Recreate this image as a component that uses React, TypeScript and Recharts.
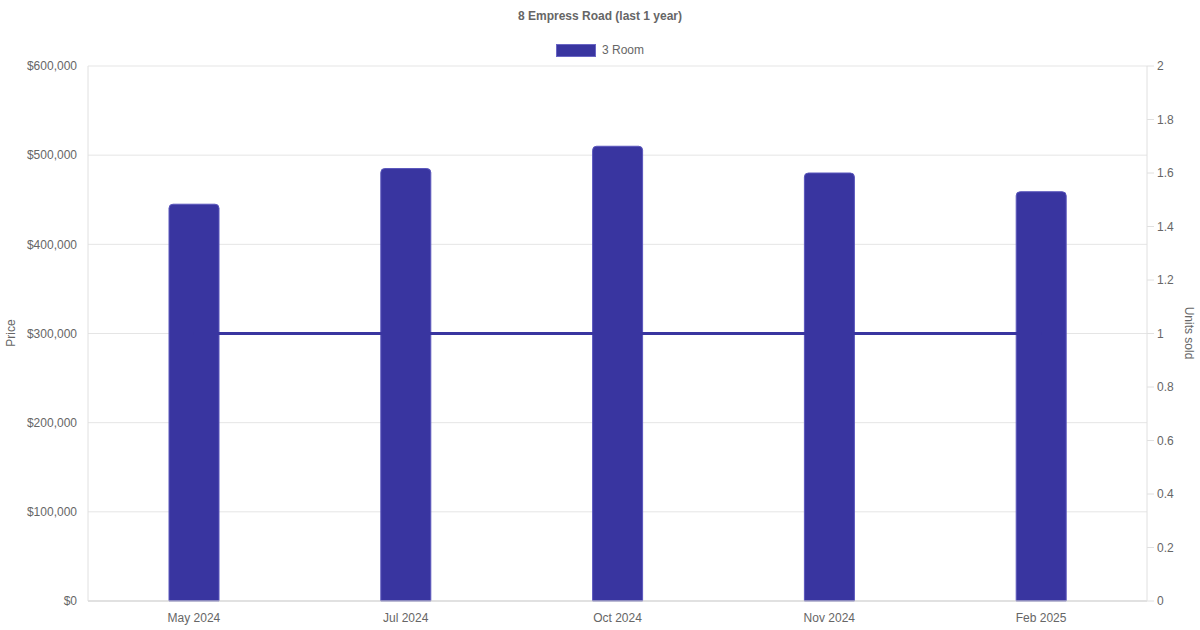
import React from 'react';
import {
  ComposedChart,
  Bar,
  Line,
  XAxis,
  YAxis,
  CartesianGrid,
} from 'recharts';

const months = ['May 2024', 'Jul 2024', 'Oct 2024', 'Nov 2024', 'Feb 2025'];
const prices = [445000, 485000, 510000, 480000, 459000];
const unitsSold = [1, 1, 1, 1, 1];
const priceTicks = [0, 100000, 200000, 300000, 400000, 500000, 600000];
const unitTicks = [0, 0.2, 0.4, 0.6, 0.8, 1, 1.2, 1.4, 1.6, 1.8, 2];

const BAR_COLOR = '#3935a0';
const TEXT = '#666';
const FONT = '"Liberation Sans", Arial, Helvetica, sans-serif';

const data = months.map((m, i) => ({ month: m, price: prices[i], units: unitsSold[i] }));

const tickStyle = { fill: TEXT, fontSize: 12, fontFamily: FONT };

export default function App() {
  return (
    <div style={{ position: 'absolute', left: 0, top: 0, width: 1200, height: 630, background: '#fff', fontFamily: FONT }}>
      {/* title */}
      <div style={{ position: 'absolute', top: 9, left: 0, width: 1200, textAlign: 'center', fontSize: 12, fontWeight: 'bold', color: TEXT }}>
        8 Empress Road (last 1 year)
      </div>
      {/* legend */}
      <div style={{ position: 'absolute', top: 43, left: 556, display: 'flex', alignItems: 'center', fontSize: 12, color: TEXT }}>
        <span style={{ display: 'inline-block', width: 38, height: 11, background: BAR_COLOR, border: '1px solid #6a66c4', marginRight: 6 }} />
        <span>3 Room</span>
      </div>
      {/* axis titles */}
      <div style={{ position: 'absolute', left: 11, top: 333, transform: 'translate(-50%, -50%) rotate(-90deg)', fontSize: 12, color: TEXT, whiteSpace: 'nowrap' }}>
        Price
      </div>
      <div style={{ position: 'absolute', left: 1189, top: 333, transform: 'translate(-50%, -50%) rotate(90deg)', fontSize: 12, color: TEXT, whiteSpace: 'nowrap' }}>
        Units sold
      </div>

      <ComposedChart
        width={1200}
        height={630}
        data={data}
        margin={{ top: 66, right: 0, bottom: 0, left: 0 }}
      >
        <CartesianGrid yAxisId="left" vertical={false} stroke="#e5e5e5" />
        <XAxis
          dataKey="month"
          height={29}
          tick={tickStyle}
          tickLine={false}
          tickSize={0}
          tickMargin={12}
          axisLine={{ stroke: '#d0d0d0' }}
        />
        <YAxis
          yAxisId="left"
          orientation="left"
          width={88}
          domain={[0, 600000]}
          ticks={priceTicks}
          tickFormatter={(v: number) => `$${v.toLocaleString('en-US')}`}
          tick={tickStyle}
          tickLine={false}
          tickSize={0}
          tickMargin={11}
          axisLine={{ stroke: '#e0e0e0' }}
        />
        <YAxis
          yAxisId="right"
          orientation="right"
          width={53}
          domain={[0, 2]}
          ticks={unitTicks}
          tickFormatter={(v: number) => String(v)}
          tick={{ ...tickStyle, textAnchor: 'start' }}
          tickLine={{ stroke: '#e0e0e0' }}
          tickSize={7}
          tickMargin={3}
          axisLine={{ stroke: '#e0e0e0' }}
        />
        <Line
          yAxisId="right"
          dataKey="units"
          stroke={BAR_COLOR}
          strokeWidth={3}
          dot={false}
          activeDot={false}
          isAnimationActive={false}
        />
        <Bar
          yAxisId="left"
          dataKey="price"
          fill={BAR_COLOR}
          stroke="#5a56bc"
          strokeWidth={1}
          barSize={50}
          radius={[4, 4, 0, 0]}
          isAnimationActive={false}
        />
      </ComposedChart>
    </div>
  );
}
